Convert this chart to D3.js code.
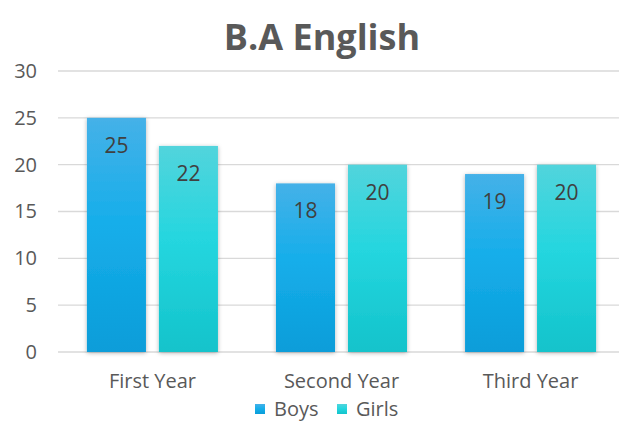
<!DOCTYPE html>
<html>
<head>
<meta charset="utf-8">
<script src="https://cdn.jsdelivr.net/npm/d3@7"></script>
<style>
  body { margin: 0; background: #fff; }
  svg { display: block; font-family: "Open Sans", "Noto Sans", sans-serif; }
</style>
</head>
<body>
<svg id="chart" width="619" height="423"></svg>
<script>
let categories = ["First Year", "Second Year", "Third Year"];
let seriesNames = ["Boys", "Girls"];
let boys = [25, 18, 19];
let girls = [22, 20, 20];
let yTicks = [0, 5, 10, 15, 20, 25, 30];

let width = 619, height = 423;
let margin = { top: 71, right: -6, bottom: 71, left: 58 };

let svg = d3.select("#chart");

// gradients for the two series
let defs = svg.append("defs");
let grads = [
  { id: "g-boys", top: "#45b1e8", mid: "#16aeea", bottom: "#0a9dd9" },
  { id: "g-girls", top: "#52d4dc", mid: "#25d6df", bottom: "#13c3cb" }
];
grads.forEach(g => {
  let lg = defs.append("linearGradient").attr("id", g.id)
    .attr("x1", 0).attr("y1", 0).attr("x2", 0).attr("y2", 1);
  lg.append("stop").attr("offset", "0%").attr("stop-color", g.top);
  lg.append("stop").attr("offset", "45%").attr("stop-color", g.mid);
  lg.append("stop").attr("offset", "100%").attr("stop-color", g.bottom);
});
let shadow = defs.append("filter").attr("id", "shadow")
  .attr("x", "-20%").attr("y", "-10%").attr("width", "140%").attr("height", "120%");
shadow.append("feDropShadow").attr("dx", 0).attr("dy", 1)
  .attr("stdDeviation", 2).attr("flood-color", "#000").attr("flood-opacity", 0.3);

let x0 = d3.scaleBand()
  .domain(categories)
  .range([margin.left, width - margin.right])
  .paddingInner(0.307)
  .paddingOuter(0.153);

let x1 = d3.scaleBand()
  .domain(seriesNames)
  .range([0, x0.bandwidth()])
  .paddingInner(0.18);

let y = d3.scaleLinear()
  .domain([0, 30])
  .range([height - margin.bottom, margin.top]);

// gridlines
svg.append("g")
  .selectAll("line")
  .data(yTicks)
  .enter()
  .append("line")
  .attr("x1", margin.left)
  .attr("x2", width)
  .attr("y1", d => y(d))
  .attr("y2", d => y(d))
  .attr("stroke", "#d9d9d9")
  .attr("stroke-width", 1.3);

// y axis labels
let yAxis = svg.append("g")
  .attr("transform", `translate(${margin.left - 21}, 0)`)
  .call(d3.axisLeft(y).tickValues(yTicks).tickSize(0).tickPadding(0));
yAxis.select(".domain").remove();
yAxis.selectAll("text")
  .attr("font-size", 20)
  .attr("font-family", "Open Sans, sans-serif")
  .attr("fill", "#595959");

// bars
let rows = categories.map((c, i) => ({ cat: c, values: [
  { key: "Boys", value: boys[i] },
  { key: "Girls", value: girls[i] }
]}));

let groups = svg.append("g")
  .selectAll("g")
  .data(rows)
  .enter()
  .append("g")
  .attr("transform", d => `translate(${x0(d.cat)}, 0)`);

groups.selectAll("rect")
  .data(d => d.values)
  .enter()
  .append("rect")
  .attr("x", d => x1(d.key))
  .attr("y", d => y(d.value))
  .attr("width", x1.bandwidth())
  .attr("height", d => y(0) - y(d.value))
  .attr("fill", d => d.key === "Boys" ? "url(#g-boys)" : "url(#g-girls)")
  .attr("filter", "url(#shadow)");

groups.selectAll("text")
  .data(d => d.values)
  .enter()
  .append("text")
  .attr("x", d => x1(d.key) + x1.bandwidth() / 2)
  .attr("y", d => y(d.value) + 35)
  .attr("text-anchor", "middle")
  .attr("font-size", 21)
  .attr("fill", "#404040")
  .text(d => d.value);

// x axis labels
let xAxis = svg.append("g")
  .attr("transform", `translate(0, ${y(0) + 22})`)
  .call(d3.axisBottom(x0).tickSize(0).tickPadding(0));
xAxis.select(".domain").remove();
xAxis.selectAll("text")
  .attr("font-size", 20)
  .attr("font-family", "Open Sans, sans-serif")
  .attr("fill", "#595959");

// title
svg.append("text")
  .attr("x", 322)
  .attr("y", 50)
  .attr("text-anchor", "middle")
  .attr("font-size", 36)
  .attr("font-weight", 700)
  .attr("fill", "#595959")
  .text("B.A English");

// legend
let legend = svg.append("g").attr("transform", "translate(255, 404)");
let legendItems = legend.selectAll("g")
  .data(seriesNames)
  .enter()
  .append("g")
  .attr("transform", (d, i) => `translate(${i * 82}, 0)`);
legendItems.append("rect")
  .attr("width", 10).attr("height", 10)
  .attr("fill", (d, i) => i === 0 ? "url(#g-boys)" : "url(#g-girls)");
legendItems.append("text")
  .attr("x", 19).attr("y", 12)
  .attr("font-size", 20)
  .attr("fill", "#595959")
  .text(d => d);
</script>
</body>
</html>
